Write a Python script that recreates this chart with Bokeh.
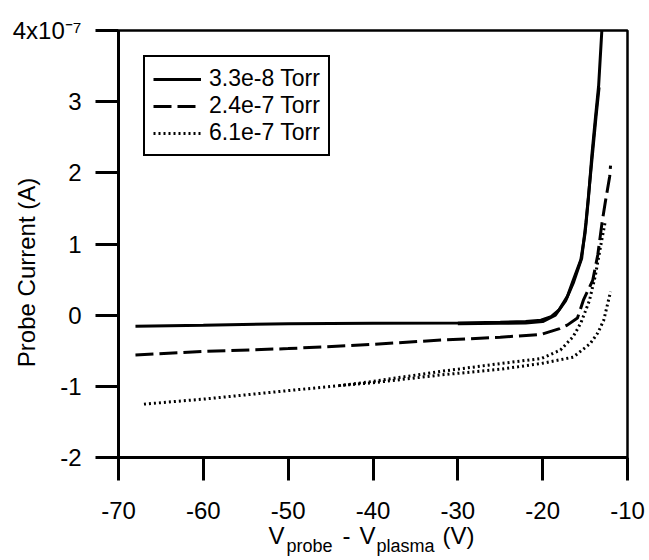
from bokeh.plotting import figure
from bokeh.models import Range1d, FixedTicker, Legend, LegendItem, LinearAxis
from bokeh.embed import file_html
from bokeh.resources import INLINE

# ---------------- data ----------------
# 3.3e-8 Torr (two sweeps)
v_a1 = [-68, -60, -50, -40, -30, -25, -22, -20.2, -19, -18.1, -17.1, -16.4, -15.5, -15.0, -14.6, -14.2, -13.8, -13.4, -13.0]
i_a1 = [-0.155, -0.14, -0.12, -0.115, -0.11, -0.10, -0.09, -0.07, -0.02, 0.07, 0.26, 0.49, 0.78, 1.15, 1.65, 2.25, 2.75, 3.23, 4.05]
v_a2 = [-30, -25, -22, -20, -18.5, -17.3, -16.4, -15.4, -14.9, -14.5, -14.1, -13.7, -13.35]
i_a2 = [-0.12, -0.115, -0.11, -0.09, 0.0, 0.2, 0.45, 0.8, 1.3, 1.8, 2.3, 2.8, 3.2]
# 2.4e-7 Torr
v_b1 = [-68, -60, -50, -40, -32, -25, -20.2, -18, -17.1, -15.9, -15.2, -14.1, -13.5, -13.0, -12.6, -12.1, -12.0]
i_b1 = [-0.56, -0.51, -0.47, -0.41, -0.35, -0.31, -0.27, -0.19, -0.14, -0.04, 0.21, 0.49, 0.85, 1.3, 1.6, 1.95, 2.1]
# 6.1e-7 Torr (two sweeps)
v_c1 = [-67, -60, -50, -44, -40, -32, -25, -20.2, -16.4, -14.4, -13.5, -12.8, -12.0]
i_c1 = [-1.25, -1.18, -1.06, -0.99, -0.95, -0.84, -0.76, -0.68, -0.59, -0.40, -0.25, -0.07, 0.33]
v_c2 = [-44, -40, -32, -25, -20.2, -17.9, -16.4, -15.5, -14.5, -13.8, -13.2, -12.6]
i_c2 = [-0.99, -0.93, -0.79, -0.68, -0.61, -0.49, -0.30, -0.11, 0.2, 0.55, 0.95, 1.33]

series_labels = ["3.3e-8 Torr", "2.4e-7 Torr", "6.1e-7 Torr"]
x_ticks = [-70, -60, -50, -40, -30, -20, -10]
x_tick_text = {t: str(t) for t in x_ticks}
y_ticks = [-2, -1, 0, 1, 2, 3, 4]
y_tick_text = {t: str(t) for t in y_ticks}
y_tick_text[4] = "4x10\u207b\u2077"
y_title = "Probe Current (A)"
# x-axis title pieces (big text / subscripts), centred at canvas-pixel positions
x_title_big = {276: "V", 346: "-", 367: "V", 458: "(V)"}
x_title_sub = {309: "probe", 405: "plasma"}

FONT = "Liberation Sans"
W, H = 649, 560
L, R, T, B = 118, 22, 30, 103

p = figure(width=W, height=H, output_backend="svg", toolbar_location=None,
           x_range=Range1d(-70, -10), y_range=Range1d(-2, 4),
           min_border_left=L, min_border_right=R, min_border_top=T, min_border_bottom=B)
p.background_fill_color = "white"
p.border_fill_color = "white"
p.grid.visible = False
p.outline_line_color = "black"
p.outline_line_width = 2.5
p.outline_line_alpha = 1.0


def style_axis(ax, size="24px"):
    ax.axis_line_width = 3
    ax.axis_line_color = "black"
    ax.major_tick_line_width = 3
    ax.major_tick_line_color = "black"
    ax.major_tick_out = 23
    ax.major_tick_in = 0
    ax.minor_tick_line_color = None
    ax.major_label_text_font = FONT
    ax.major_label_text_font_size = size
    ax.major_label_text_color = "black"


def text_axis(ax, size, standoff):
    ax.axis_line_color = None
    ax.major_tick_line_color = None
    ax.minor_tick_line_color = None
    ax.major_tick_out = 0
    ax.major_tick_in = 0
    ax.major_label_text_font = FONT
    ax.major_label_text_font_size = size
    ax.major_label_text_color = "black"
    ax.major_label_standoff = standoff


xa = p.xaxis[0]
ya = p.yaxis[0]
style_axis(xa)
style_axis(ya)
xa.ticker = FixedTicker(ticks=x_ticks)
ya.ticker = FixedTicker(ticks=y_ticks)
xa.major_label_standoff = 21
ya.major_label_standoff = 14
xa.major_label_overrides = x_tick_text
ya.major_label_overrides = y_tick_text

# y-axis title as a rotated label of an extra axis
yt = LinearAxis(ticker=FixedTicker(ticks=[0.6]), major_label_overrides={0.6: y_title},
                major_label_orientation="vertical")
text_axis(yt, "24px", -31)
p.add_layout(yt, "left")

# x-axis title (with subscripts) as labels of two extra axes on a pixel range
p.extra_x_ranges["title"] = Range1d(L, W - R)
xt1 = LinearAxis(x_range_name="title", ticker=FixedTicker(ticks=list(x_title_big)),
                 major_label_overrides=x_title_big)
text_axis(xt1, "24px", 0)
p.add_layout(xt1, "below")
xt2 = LinearAxis(x_range_name="title", ticker=FixedTicker(ticks=list(x_title_sub)),
                 major_label_overrides=x_title_sub)
text_axis(xt2, "18px", -16)
p.add_layout(xt2, "below")

r1 = p.line(v_a1, i_a1, line_color="black", line_width=3)
p.line(v_a2, i_a2, line_color="black", line_width=3)
r2 = p.line(v_b1, i_b1, line_color="black", line_width=3, line_dash="18 6")
r3 = p.line(v_c1, i_c1, line_color="black", line_width=3, line_dash="2 3")
p.line(v_c2, i_c2, line_color="black", line_width=3, line_dash="2 3")

legend = Legend(items=[LegendItem(label=series_labels[0], renderers=[r1]),
                       LegendItem(label=series_labels[1], renderers=[r2]),
                       LegendItem(label=series_labels[2], renderers=[r3])],
                location="top_left", margin=25, padding=8, spacing=0,
                label_text_font=FONT, label_text_font_size="23px", label_text_color="black",
                glyph_width=48, label_standoff=8,
                border_line_color="black", border_line_width=2.5, border_line_alpha=1.0,
                background_fill_alpha=1.0)
p.add_layout(legend, "center")

open("out.html", "w").write(file_html(p, INLINE))
